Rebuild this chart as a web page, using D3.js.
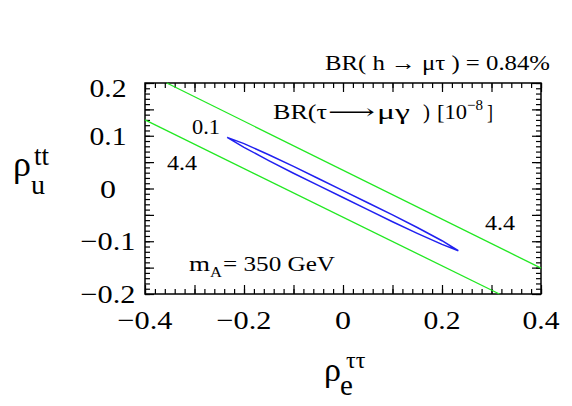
<!DOCTYPE html>
<meta charset="utf-8">
<style>
body { margin: 0; background: #fff; }
svg text { font-family: "Liberation Serif", "Times New Roman", "DejaVu Serif", serif; fill: #000; }
.axis path { display: none; }
.axis line { stroke: #000; stroke-width: 1.2; }
</style>
<svg width="572" height="406"></svg>
<script src="https://d3js.org/d3.v7.min.js"></script>
<script>
// axis ranges and tick labels
var xDomain = [-0.4, 0.4],
    yDomain = [-0.2, 0.2];
var xLabels = [-0.4, -0.2, 0, 0.2, 0.4],
    yLabels = [-0.2, -0.1, 0, 0.1, 0.2];

// BR(tau -> mu gamma) = 4.4 contour, two branches (rho_e, rho_u)
var contour44a = [[-0.356, 0.200], [0.400, -0.151]];
var contour44b = [[-0.400, 0.130], [0.316, -0.200]];

// BR(tau -> mu gamma) = 0.1 contour, closed
var contour01 = [
  [-0.234, 0.097], [-0.200, 0.085], [-0.150, 0.064], [-0.100, 0.042],
  [-0.050, 0.019], [0.000, -0.004], [0.050, -0.027], [0.100, -0.050],
  [0.150, -0.074], [0.200, -0.099], [0.233, -0.118],
  [0.200, -0.106], [0.150, -0.085], [0.100, -0.063], [0.050, -0.040],
  [0.000, -0.017], [-0.050, 0.006], [-0.100, 0.029], [-0.150, 0.053],
  [-0.200, 0.078]
];

var svg = d3.select("svg"),
  margin = {top: 83, right: 31, bottom: 112, left: 145},
  width = svg.attr("width") - margin.left - margin.right,
  height = svg.attr("height") - margin.top - margin.bottom;

var x = d3.scaleLinear().domain(xDomain).range([0, width]);
var y = d3.scaleLinear().domain(yDomain).range([height, 0]);

var g = svg.append("g")
  .attr("transform", "translate(" + margin.left + "," + margin.top + ")");

var fmt = function(d) { return d === 0 ? "0" : d3.format(".1f")(d).replace("-", "\u2212"); };
// the original figure is drawn with a wide serif face, so stretch text to its width
var labelWidth = function(d) { return d === 0 ? 16 : d < 0 ? 55 : 37; };

function txt(parent, px, py, s, size, len, anchor) {
  var t = parent.append("text").attr("x", px).attr("y", py)
    .attr("text-anchor", anchor || "start")
    .style("font-size", size + "px").text(s);
  if (len) t.attr("textLength", len).attr("lengthAdjust", "spacingAndGlyphs");
  return t;
}

// ticks on all four sides, pointing inwards
function ticks(axis, scale, n, size, tr) {
  g.append("g").attr("class", "axis").attr("transform", tr)
    .call(axis(scale).tickValues(scale.ticks(n)).tickSize(size).tickFormat(""));
}
[[40, 5], [8, 9]].forEach(function(t) {
  ticks(d3.axisBottom, x, t[0], -t[1], "translate(0," + height + ")");
  ticks(d3.axisTop, x, t[0], -t[1], "translate(0,0)");
  ticks(d3.axisLeft, y, t[0], -t[1], "translate(0,0)");
  ticks(d3.axisRight, y, t[0], -t[1], "translate(" + width + ",0)");
});

g.append("rect")
  .attr("width", width).attr("height", height)
  .attr("fill", "none").attr("stroke", "#000").attr("stroke-width", 1.5);

// tick labels
xLabels.forEach(function(d) {
  txt(g, x(d), height + 35, fmt(d), 26, labelWidth(d), "middle");
});
yLabels.forEach(function(d) {
  txt(g, -37, y(d) + (d === 0.2 ? 14 : 9), fmt(d), 26, labelWidth(d), "middle");
});

// contours
var line = d3.line().x(function(d) { return x(d[0]); }).y(function(d) { return y(d[1]); });
var plot = g.append("g");

[contour44a, contour44b].forEach(function(c) {
  plot.append("path").attr("d", line(c))
    .attr("fill", "none").attr("stroke", "#22e822").attr("stroke-width", 1.3);
});

plot.append("path").attr("d", line.curve(d3.curveLinearClosed)(contour01))
  .attr("fill", "none").attr("stroke", "#2020f0").attr("stroke-width", 1.5);

// contour labels
txt(svg, 192, 134, "0.1", 22, 28);
txt(svg, 167, 170, "4.4", 22, 30);
txt(svg, 485, 230, "4.4", 22, 30);

// BR(tau -> mu gamma) [10^-8]
txt(svg, 273, 119, "BR(\u03c4", 21, 54);
txt(svg, 328, 119, "\u27f6", 21, 47);
txt(svg, 377, 119, "\u03bc\u03b3", 21, 33);
txt(svg, 423, 119, ")", 21, 7);
txt(svg, 437, 119, "[10", 21, 30);
txt(svg, 467, 110, "\u22128", 15, 16);
txt(svg, 487, 119, "]", 21, 6);

// m_A = 350 GeV
txt(svg, 189, 271, "m", 22, 21);
txt(svg, 210, 277, "A", 15, 12);
txt(svg, 223, 271, "= 350 GeV", 22, 112);

// top caption
txt(svg, 325, 70, "BR( h \u2192 \u03bc\u03c4 ) = 0.84%", 21, 225);

// axis titles
txt(svg, 13, 176, "\u03c1", 36);
txt(svg, 31, 194, "u", 28);
txt(svg, 34, 165, "tt", 27);

txt(svg, 324, 381, "\u03c1", 34);
txt(svg, 340, 395, "e", 29);
txt(svg, 346, 368, "\u03c4\u03c4", 24);
</script>
